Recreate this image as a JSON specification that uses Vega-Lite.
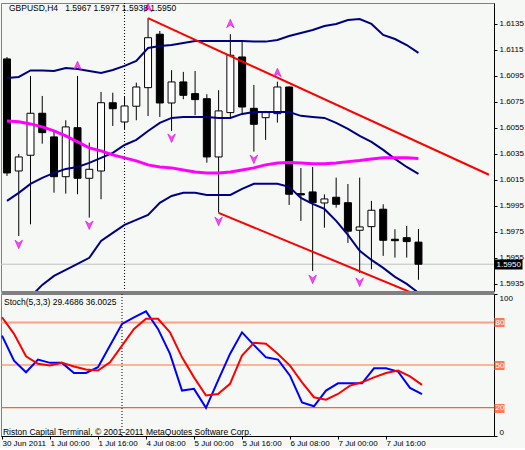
{
"$schema":"https://vega.github.io/schema/vega-lite/v6.json",
"background":"#F5F8F5",
"padding":{"left":-1,"top":2,"right":0,"bottom":0},
"spacing":3,
"bounds":"flush",
"config":{
 "view":{"stroke":"#808080","strokeWidth":1,"fill":"#F5F8F5"},
 "font":"Liberation Sans Narrow, Liberation Sans, sans-serif",
 "axis":{"labelFont":"Liberation Sans Narrow, Liberation Sans, sans-serif","labelFontSize":8,"labelColor":"#000000","domainColor":"#000000","tickColor":"#000000","grid":false,"labelOverlap":false,"labelBound":false,"labelFlush":false}
},
"datasets":{
 "bars":[
  {"i":0,"t":"2011-06-30 08:00","o":1.61079,"h":1.61094,"l":1.60179,"c":1.60202,"up":1.60932,"mid":1.59987,"lo":1.59041,"ma":1.60602,"k":70.7,"d":83.6},
  {"i":1,"t":"2011-06-30 12:00","o":1.60217,"h":1.60348,"l":1.59717,"c":1.60325,"up":1.60940,"mid":1.60049,"lo":1.59156,"ma":1.60595,"k":53.0,"d":71.9},
  {"i":2,"t":"2011-06-30 16:00","o":1.60338,"h":1.60948,"l":1.59807,"c":1.60661,"up":1.60990,"mid":1.60118,"lo":1.59249,"ma":1.60579,"k":44.9,"d":56.1},
  {"i":3,"t":"2011-06-30 20:00","o":1.60661,"h":1.60794,"l":1.60427,"c":1.60512,"up":1.60990,"mid":1.60164,"lo":1.59341,"ma":1.60556,"k":53.8,"d":50.8},
  {"i":4,"t":"2011-07-01 00:00","o":1.60479,"h":1.60525,"l":1.60050,"c":1.60173,"up":1.60986,"mid":1.60202,"lo":1.59410,"ma":1.60525,"k":51.5,"d":49.6},
  {"i":5,"t":"2011-07-01 04:00","o":1.60173,"h":1.60607,"l":1.60043,"c":1.60556,"up":1.61009,"mid":1.60233,"lo":1.59456,"ma":1.60487,"k":51.5,"d":51.5},
  {"i":6,"t":"2011-07-01 08:00","o":1.60550,"h":1.60948,"l":1.60038,"c":1.60161,"up":1.61002,"mid":1.60248,"lo":1.59503,"ma":1.60441,"k":44.4,"d":48.9},
  {"i":7,"t":"2011-07-01 12:00","o":1.60161,"h":1.60435,"l":1.59858,"c":1.60230,"up":1.60986,"mid":1.60279,"lo":1.59549,"ma":1.60395,"k":44.4,"d":46.8},
  {"i":8,"t":"2011-07-01 16:00","o":1.60217,"h":1.60825,"l":1.60000,"c":1.60742,"up":1.60971,"mid":1.60318,"lo":1.59679,"ma":1.60372,"k":48.4,"d":46.1},
  {"i":9,"t":"2011-07-01 20:00","o":1.60742,"h":1.60819,"l":1.60563,"c":1.60696,"up":1.60994,"mid":1.60356,"lo":1.59741,"ma":1.60341,"k":63.7,"d":51.9},
  {"i":10,"t":"2011-07-04 00:00","o":1.60594,"h":1.60786,"l":1.60540,"c":1.60717,"up":1.61025,"mid":1.60417,"lo":1.59802,"ma":1.60318,"k":78.9,"d":63.7},
  {"i":11,"t":"2011-07-04 04:00","o":1.60715,"h":1.60896,"l":1.60607,"c":1.60863,"up":1.61063,"mid":1.60456,"lo":1.59841,"ma":1.60295,"k":83.6,"d":75.4},
  {"i":12,"t":"2011-07-04 08:00","o":1.60858,"h":1.61392,"l":1.60640,"c":1.61242,"up":1.61163,"mid":1.60525,"lo":1.59879,"ma":1.60264,"k":87.8,"d":82.5},
  {"i":13,"t":"2011-07-04 12:00","o":1.61269,"h":1.61294,"l":1.60633,"c":1.60740,"up":1.61178,"mid":1.60587,"lo":1.59972,"ma":1.60248,"k":75.4,"d":82.5},
  {"i":14,"t":"2011-07-04 16:00","o":1.60740,"h":1.60992,"l":1.60525,"c":1.60902,"up":1.61186,"mid":1.60625,"lo":1.60025,"ma":1.60241,"k":57.8,"d":73.0},
  {"i":15,"t":"2011-07-04 20:00","o":1.60902,"h":1.60979,"l":1.60769,"c":1.60799,"up":1.61202,"mid":1.60633,"lo":1.60049,"ma":1.60225,"k":32.0,"d":55.4},
  {"i":16,"t":"2011-07-05 00:00","o":1.60812,"h":1.60986,"l":1.60646,"c":1.60766,"up":1.61217,"mid":1.60633,"lo":1.60049,"ma":1.60210,"k":33.2,"d":41.3},
  {"i":17,"t":"2011-07-05 04:00","o":1.60773,"h":1.60807,"l":1.60281,"c":1.60325,"up":1.61217,"mid":1.60633,"lo":1.60033,"ma":1.60202,"k":19.8,"d":28.5},
  {"i":18,"t":"2011-07-05 08:00","o":1.60325,"h":1.60838,"l":1.59897,"c":1.60679,"up":1.61217,"mid":1.60625,"lo":1.60033,"ma":1.60202,"k":39.0,"d":29.6},
  {"i":19,"t":"2011-07-05 12:00","o":1.60666,"h":1.61269,"l":1.60627,"c":1.61107,"up":1.61217,"mid":1.60625,"lo":1.60033,"ma":1.60210,"k":57.8,"d":36.7},
  {"i":20,"t":"2011-07-05 16:00","o":1.61094,"h":1.61217,"l":1.60653,"c":1.60709,"up":1.61217,"mid":1.60656,"lo":1.60079,"ma":1.60225,"k":73.0,"d":56.6},
  {"i":21,"t":"2011-07-05 20:00","o":1.60699,"h":1.60879,"l":1.60366,"c":1.60576,"up":1.61212,"mid":1.60671,"lo":1.60118,"ma":1.60241,"k":64.0,"d":65.6},
  {"i":22,"t":"2011-07-06 00:00","o":1.60627,"h":1.60679,"l":1.60456,"c":1.60666,"up":1.61212,"mid":1.60671,"lo":1.60118,"ma":1.60264,"k":55.4,"d":64.9},
  {"i":23,"t":"2011-07-06 04:00","o":1.60658,"h":1.60904,"l":1.60589,"c":1.60863,"up":1.61225,"mid":1.60671,"lo":1.60118,"ma":1.60279,"k":53.8,"d":57.8},
  {"i":24,"t":"2011-07-06 08:00","o":1.60863,"h":1.60868,"l":1.59956,"c":1.60038,"up":1.61255,"mid":1.60671,"lo":1.60095,"ma":1.60282,"k":42.5,"d":49.6},
  {"i":25,"t":"2011-07-06 12:00","o":1.60043,"h":1.60240,"l":1.59833,"c":1.60033,"up":1.61278,"mid":1.60641,"lo":1.60010,"ma":1.60279,"k":23.7,"d":37.8},
  {"i":26,"t":"2011-07-06 16:00","o":1.60056,"h":1.60248,"l":1.59448,"c":1.59973,"up":1.61301,"mid":1.60633,"lo":1.59964,"ma":1.60272,"k":20.9,"d":27.3},
  {"i":27,"t":"2011-07-06 20:00","o":1.59971,"h":1.60037,"l":1.59781,"c":1.60002,"up":1.61332,"mid":1.60625,"lo":1.59925,"ma":1.60272,"k":32.0,"d":25.6},
  {"i":28,"t":"2011-07-07 00:00","o":1.60015,"h":1.60166,"l":1.59935,"c":1.59961,"up":1.61348,"mid":1.60587,"lo":1.59833,"ma":1.60279,"k":37.1,"d":29.6},
  {"i":29,"t":"2011-07-07 04:00","o":1.59973,"h":1.60117,"l":1.59664,"c":1.59754,"up":1.61378,"mid":1.60541,"lo":1.59726,"ma":1.60289,"k":37.1,"d":35.5},
  {"i":30,"t":"2011-07-07 08:00","o":1.59761,"h":1.60166,"l":1.59433,"c":1.59787,"up":1.61386,"mid":1.60487,"lo":1.59603,"ma":1.60298,"k":37.1,"d":37.8},
  {"i":31,"t":"2011-07-07 12:00","o":1.59789,"h":1.59987,"l":1.59461,"c":1.59915,"up":1.61348,"mid":1.60441,"lo":1.59533,"ma":1.60310,"k":47.7,"d":41.3},
  {"i":32,"t":"2011-07-07 16:00","o":1.59923,"h":1.59961,"l":1.59564,"c":1.59684,"up":1.61263,"mid":1.60379,"lo":1.59472,"ma":1.60318,"k":47.7,"d":44.4},
  {"i":33,"t":"2011-07-07 20:00","o":1.59692,"h":1.59769,"l":1.59551,"c":1.59681,"up":1.61232,"mid":1.60310,"lo":1.59403,"ma":1.60318,"k":45.4,"d":46.1},
  {"i":34,"t":"2011-07-08 00:00","o":1.59704,"h":1.59794,"l":1.59551,"c":1.59674,"up":1.61186,"mid":1.60248,"lo":1.59349,"ma":1.60318,"k":33.9,"d":42.0},
  {"i":35,"t":"2011-07-08 04:00","o":1.5967,"h":1.5977,"l":1.5938,"c":1.5950,"up":1.61125,"mid":1.60195,"lo":1.59280,"ma":1.60314,"k":29.47,"d":36.0}
 ],
 "trend":[
  {"g":"upper","i":12,"p":1.61392},
  {"g":"upper","i":41,"p":1.60188},
  {"g":"lower","i":18,"p":1.59895},
  {"g":"lower","i":41,"p":1.59035}
 ],
 "fr":[
  {"i":6,"p":1.61025,"dir":"up"},
  {"i":12,"p":1.61471,"dir":"up"},
  {"i":19,"p":1.61348,"dir":"up"},
  {"i":23,"p":1.60971,"dir":"up"},
  {"i":1,"p":1.59656,"dir":"down"},
  {"i":7,"p":1.59803,"dir":"down"},
  {"i":14,"p":1.60472,"dir":"down"},
  {"i":18,"p":1.59833,"dir":"down"},
  {"i":21,"p":1.60310,"dir":"down"},
  {"i":26,"p":1.59387,"dir":"down"},
  {"i":30,"p":1.59364,"dir":"down"}
 ]
},
"vconcat":[
 {
  "width":493,"height":288,
  "resolve":{"axis":{"y":"independent","x":"independent"}},
  "layer":[
   {"data":{"values":[{}]},"mark":{"type":"rule","color":"#C0C0C0","strokeWidth":1},
    "encoding":{"y":{"datum":1.595,"type":"quantitative","axis":null}}},
   {"data":{"values":[{}]},"mark":{"type":"rule","color":"#000000","strokeWidth":1,"strokeDash":[1,2]},
    "encoding":{"x":{"datum":10,"type":"quantitative","axis":null}}},
   {"data":{"name":"bars"},"mark":{"type":"rule","color":"#000000","strokeWidth":1,"clip":true},
    "encoding":{
     "x":{"field":"i","type":"quantitative","scale":{"domain":[-0.0833,41],"nice":false,"zero":false},"axis":{"orient":"bottom","ticks":false,"labels":false,"domainColor":"#808080","domainWidth":3,"offset":1.5,"title":null}},
     "y":{"field":"l","type":"quantitative","scale":{"domain":[1.59294,1.61509],"nice":false,"zero":false},"axis":{"orient":"right","values":[1.5935,1.5955,1.5975,1.5995,1.6015,1.6035,1.6055,1.6075,1.6095,1.6115,1.6135],"format":".4f","tickSize":3,"labelPadding":2,"title":null}},
     "y2":{"field":"h"}}},
   {"data":{"name":"bars"},"mark":{"type":"bar","width":7,"stroke":"#000000","strokeWidth":1,"clip":true},
    "encoding":{
     "x":{"field":"i","type":"quantitative","axis":null},
     "y":{"field":"o","type":"quantitative","axis":null},
     "y2":{"field":"c"},
     "fill":{"condition":{"test":"datum.c > datum.o","value":"#FFFFFF"},"value":"#000000"}}},
   {"data":{"name":"bars"},"mark":{"type":"line","color":"#000080","strokeWidth":2,"clip":true},
    "encoding":{"x":{"field":"i","type":"quantitative","axis":null},"y":{"field":"up","type":"quantitative","axis":null}}},
   {"data":{"name":"bars"},"mark":{"type":"line","color":"#000080","strokeWidth":2,"clip":true},
    "encoding":{"x":{"field":"i","type":"quantitative","axis":null},"y":{"field":"mid","type":"quantitative","axis":null}}},
   {"data":{"name":"bars"},"mark":{"type":"line","color":"#000080","strokeWidth":2,"clip":true},
    "encoding":{"x":{"field":"i","type":"quantitative","axis":null},"y":{"field":"lo","type":"quantitative","axis":null}}},
   {"data":{"name":"bars"},"mark":{"type":"line","color":"#FF00FF","strokeWidth":3,"clip":true},
    "encoding":{"x":{"field":"i","type":"quantitative","axis":null},"y":{"field":"ma","type":"quantitative","axis":null}}},
   {"data":{"name":"trend"},"mark":{"type":"line","color":"#FF0000","strokeWidth":2,"clip":true},
    "encoding":{"x":{"field":"i","type":"quantitative","axis":null},"y":{"field":"p","type":"quantitative","axis":null},"detail":{"field":"g","type":"nominal"}}},
   {"data":{"name":"fr"},"mark":{"type":"point","filled":true,"size":90,"opacity":1,"stroke":"#E000E0","strokeWidth":0.6,"clip":true},
    "encoding":{
     "x":{"field":"i","type":"quantitative","axis":null},
     "y":{"field":"p","type":"quantitative","axis":null},
     "shape":{"field":"dir","type":"nominal","scale":{"domain":["up","down"],"range":["M0,-1L0.8,0.8L0,0.2L-0.8,0.8Z","M0,1L0.8,-0.8L0,-0.2L-0.8,-0.8Z"]},"legend":null},
     "color":{"value":"#F050F0"}}},
   {"data":{"values":[{"txt":"GBPUSD,H4\u00a0\u00a0\u00a01.5967 1.5977 1.5938 1.5950"}]},
    "mark":{"type":"text","align":"left","baseline":"middle","fontSize":8.5,"color":"#000000","font":"Liberation Sans Narrow, Liberation Sans, sans-serif"},
    "encoding":{"x":{"datum":0.1667,"type":"quantitative","axis":null},"y":{"datum":1.61467,"type":"quantitative","axis":null},"text":{"field":"txt"}}},
   {"data":{"values":[{}]},"mark":{"type":"rule","opacity":0},
    "encoding":{"y":{"datum":1.595,"type":"quantitative","axis":{"orient":"right","values":[1.595],"format":".4f","tickSize":28,"tickWidth":10,"tickColor":"#000000","labelColor":"#FFFFFF","labelPadding":-26,"domain":false,"zindex":2,"title":null}}}}
  ]
 },
 {
  "width":493,"height":142,
  "resolve":{"axis":{"y":"independent","x":"independent"}},
  "layer":[
   {"data":{"values":[{}]},"mark":{"type":"rule","color":"#FFA080","strokeWidth":2},
    "encoding":{"y":{"datum":80,"type":"quantitative","axis":null}}},
   {"data":{"values":[{}]},"mark":{"type":"rule","color":"#FF7040","strokeWidth":1.2},
    "encoding":{"y":{"datum":50,"type":"quantitative","axis":{"orient":"right","values":[20,50,80],"tickSize":10,"tickWidth":9,"tickColor":"#FF7A50","labelColor":"#FFFFFF","labelPadding":-9,"domain":false,"zindex":2,"title":null}}}},
   {"data":{"values":[{}]},"mark":{"type":"rule","color":"#FF6030","strokeWidth":1.2},
    "encoding":{"y":{"datum":20,"type":"quantitative","axis":null}}},
   {"data":{"values":[{}]},"mark":{"type":"rule","color":"#000000","strokeWidth":1,"strokeDash":[1,2]},
    "encoding":{"x":{"datum":10,"type":"quantitative","axis":null}}},
   {"data":{"name":"bars"},"mark":{"type":"line","color":"#0000FF","strokeWidth":2,"clip":true},
    "encoding":{
     "x":{"field":"i","type":"quantitative","scale":{"domain":[-0.0833,41],"nice":false,"zero":false},"axis":{"orient":"bottom","values":[0,4,8,12,16,20,24,28,32],"labelExpr":"['30 Jun 2011','1 Jul 00:00','1 Jul 16:00','4 Jul 08:00','5 Jul 00:00','5 Jul 16:00','6 Jul 08:00','7 Jul 00:00','7 Jul 16:00'][round(datum.value/4)]","labelAlign":"left","labelBaseline":"top","tickSize":3,"labelPadding":0,"title":null}},
     "y":{"field":"k","type":"quantitative","scale":{"domain":[0,100],"nice":false,"zero":false},"axis":{"orient":"right","values":[0,100],"labelFlush":true,"tickSize":3,"labelPadding":2,"title":null}}}},
   {"data":{"name":"bars"},"mark":{"type":"line","color":"#FF0000","strokeWidth":2,"clip":true},
    "encoding":{"x":{"field":"i","type":"quantitative","axis":null},"y":{"field":"d","type":"quantitative","axis":null}}},
   {"data":{"values":[{"txt":"Stoch(5,3,3) 29.4686 36.0025"}]},
    "mark":{"type":"text","align":"left","baseline":"middle","fontSize":8.5,"color":"#000000","font":"Liberation Sans Narrow, Liberation Sans, sans-serif"},
    "encoding":{"x":{"datum":0.1667,"type":"quantitative","axis":null},"y":{"datum":94.7,"type":"quantitative","axis":null},"text":{"field":"txt"}}},
   {"data":{"values":[{"txt":"Riston Capital Terminal, © 2001-2011 MetaQuotes Software Corp."}]},
    "mark":{"type":"text","align":"left","baseline":"middle","fontSize":8.5,"color":"#000000","font":"Liberation Sans Narrow, Liberation Sans, sans-serif"},
    "encoding":{"x":{"datum":0.08,"type":"quantitative","axis":null},"y":{"datum":2.8,"type":"quantitative","axis":null},"text":{"field":"txt"}}}
  ]
 }
]
}
